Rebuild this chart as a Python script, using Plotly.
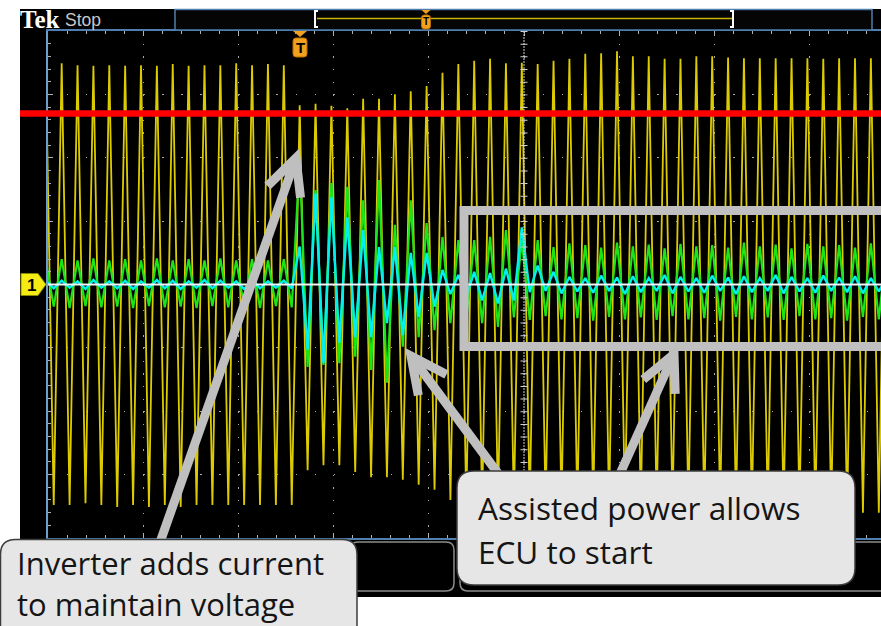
import math
import plotly.graph_objects as go

CYCLES_PER_DIV = 6          # timebase: 6 cycles per horizontal division
FIRST_PEAK_DIV = -0.023     # time of the first (off-screen) peak, in divisions

# channel 1 (yellow) – peak / trough of every cycle, in vertical divisions
yellow_peaks = [3.46,
                3.49, 3.46, 3.45, 3.46, 3.45, 3.46, 3.45, 3.48, 3.45, 3.46, 3.46, 3.49, 3.46, 3.48, 3.46,
                2.83, 2.85, 2.82, 2.78, 2.93, 2.93, 3.00, 3.05, 3.13,
                3.34, 3.48, 3.53, 3.56, 3.49, 3.50, 3.48, 3.53, 3.56, 3.64, 3.65, 3.68, 3.60, 3.60, 3.56,
                3.56, 3.60, 3.60, 3.58, 3.57, 3.57, 3.57, 3.57, 3.57, 3.56, 3.57, 3.57, 3.57, 3.57]
yellow_troughs = [-3.48, -3.48, -3.45, -3.48, -3.51, -3.48, -3.51, -3.48, -3.51, -3.48, -3.48, -3.48,
                  -3.48, -3.48, -3.48, -3.48,
                  -2.93, -2.85, -2.85, -2.96, -3.04, -3.04, -3.08, -3.16, -3.24, -3.40,
                  -3.48, -3.50, -3.50, -3.52, -3.50, -3.52, -3.50, -3.52, -3.52, -3.52, -3.54, -3.52,
                  -3.54, -3.54, -3.54, -3.56, -3.54, -3.56, -3.56, -3.56, -3.58, -3.56, -3.58, -3.58,
                  -3.60, -3.60, -3.60]

# green trace
green_peaks = [0.38,
               0.40, 0.38, 0.41, 0.38, 0.40, 0.38, 0.41, 0.38, 0.40, 0.38, 0.41, 0.38, 0.40, 0.38, 0.40,
               1.96, 1.49, 1.60, 1.54, 1.33, 1.65, 0.94, 1.33, 0.97, 0.75, 0.70, 0.70, 0.75, 0.86, 0.70,
               0.70, 0.59, 0.65,
               0.62, 0.58, 0.66, 0.60, 0.63, 0.57, 0.64, 0.60, 0.62, 0.58, 0.66, 0.60, 0.63, 0.57, 0.64,
               0.60, 0.62, 0.58, 0.65, 0.60]
green_troughs = [-0.35, -0.37, -0.34, -0.36, -0.35, -0.37, -0.34, -0.36, -0.35, -0.37, -0.34, -0.36,
                 -0.35, -0.37, -0.34, -0.36,
                 -1.30, -1.27, -1.24, -1.14, -1.35, -1.55, -0.98, -0.83, -0.72, -0.61, -0.56, -0.61, -0.67,
                 -0.52, -0.56, -0.50, -0.55, -0.53, -0.57, -0.51, -0.55, -0.52, -0.56, -0.50, -0.55,
                 -0.53, -0.57, -0.51, -0.55, -0.52, -0.56, -0.50, -0.55, -0.53, -0.57, -0.51, -0.55]

# cyan trace
cyan_peaks = [0.06,
              0.06, 0.05, 0.07, 0.05, 0.06, 0.05, 0.07, 0.06, 0.05, 0.07, 0.06, 0.05, 0.07, 0.05, 0.06,
              0.60, 1.44, 1.38, 1.06, 0.86, 0.59, 0.59, 0.50, 0.50, 0.23, 0.15, 0.20, 0.18, 0.25, 0.90,
              0.30, 0.20,
              0.12, 0.10, 0.14, 0.11, 0.13, 0.10, 0.15, 0.12, 0.10, 0.14, 0.11, 0.13, 0.10, 0.15, 0.12,
              0.10, 0.14, 0.11, 0.13, 0.10, 0.12]
cyan_troughs = [-0.06, -0.05, -0.07, -0.05, -0.06, -0.07, -0.05, -0.06, -0.07, -0.05, -0.06, -0.05,
                -0.07, -0.06, -0.05, -0.06,
                -1.03, -1.24, -0.92, -0.83, -0.83, -0.61, -0.80, -0.51, -0.35, -0.15, -0.20, -0.25,
                -0.30, -0.25,
                -0.12, -0.10, -0.14, -0.11, -0.13, -0.10, -0.15, -0.12, -0.10, -0.14, -0.11, -0.13,
                -0.10, -0.15, -0.12, -0.10, -0.14, -0.11, -0.13, -0.10, -0.12, -0.14, -0.11]

label_left = ["Inverter adds current", "to maintain voltage"]
label_right = ["Assisted power allows", "ECU to start"]


def build(peaks, troughs):
    period = 1.0 / CYCLES_PER_DIV
    t, v = [], []
    for k, p in enumerate(peaks):
        t.append(FIRST_PEAK_DIV + k * period)
        v.append(p)
        if k < len(troughs):
            t.append(FIRST_PEAK_DIV + k * period + period / 2)
            v.append(troughs[k])
    return t, v


# ---------------- geometry helpers (page pixels -> paper coords) ----------------
W, H = 881, 626
PL, PR, PT, PB = 48, 881, 31, 538
DIV_X = 95.2


def px(x):
    return (x - PL) / (PR - PL)


def py(y):
    return (PB - y) / (PB - PT)


def P(pt):
    return f"{px(pt[0]):.5f},{py(pt[1]):.5f}"


def rrect(x0, y0, x1, y1, r):
    return (f"M{P((x0 + r, y0))} L{P((x1 - r, y0))} Q{P((x1, y0))} {P((x1, y0 + r))} "
            f"L{P((x1, y1 - r))} Q{P((x1, y1))} {P((x1 - r, y1))} "
            f"L{P((x0 + r, y1))} Q{P((x0, y1))} {P((x0, y1 - r))} "
            f"L{P((x0, y0 + r))} Q{P((x0, y0))} {P((x0 + r, y0))} Z")


fig = go.Figure()
for (pk, tr, col, w) in [(yellow_peaks, yellow_troughs, "#dccb00", 1.8),
                         (green_peaks, green_troughs, "#19e619", 2.2),
                         (cyan_peaks, cyan_troughs, "#00f0f0", 2.4)]:
    t, v = build(pk, tr)
    fig.add_trace(go.Scatter(x=t, y=v, mode="lines", line=dict(color=col, width=w),
                             hoverinfo="skip"))

shapes = []
# scope screen background
shapes.append(dict(type="rect", xref="paper", yref="paper", x0=px(20), x1=1.0, y0=py(597), y1=py(9),
                   fillcolor="black", line=dict(width=0), layer="below"))
# bottom menu boxes
for (a, b) in [(350, 454), (460, 910)]:
    shapes.append(dict(type="path", xref="paper", yref="paper", path=rrect(a, 542, b, 591, 8),
                       line=dict(color="#8c8c8c", width=1.5), fillcolor="black", layer="above"))
# top bar
shapes.append(dict(type="rect", xref="paper", yref="paper", x0=px(175), x1=px(872), y0=py(30), y1=py(9.5),
                   line=dict(color="#4f7fae", width=1.5), fillcolor="#050505", layer="above"))
shapes.append(dict(type="line", xref="paper", yref="paper", x0=px(317), x1=px(732), y0=py(18.5), y1=py(18.5),
                   line=dict(color="#c8b400", width=1.6), layer="above"))
for (bx, d) in [(315, 1), (733, -1)]:
    shapes.append(dict(type="path", xref="paper", yref="paper",
                       path=f"M{P((bx + 3 * d, 11))} L{P((bx, 11))} L{P((bx, 27))} L{P((bx + 3 * d, 27))}",
                       line=dict(color="white", width=2), layer="above"))
# trigger markers
for (cx, top, bot, hw) in [(426, 10, 29, 4.5), (300, 31, 57, 7)]:
    tri_h = 4 if top < 20 else 6
    shapes.append(dict(type="path", xref="paper", yref="paper",
                       path=f"M{P((cx - hw, top))} L{P((cx + hw, top))} L{P((cx, top + tri_h))} Z",
                       fillcolor="#f2a01e", line=dict(width=0), layer="above"))
    shapes.append(dict(type="path", xref="paper", yref="paper",
                       path=rrect(cx - hw, top + tri_h + 1, cx + hw, bot, 3),
                       fillcolor="#f2a01e", line=dict(color="#b86e00", width=1), layer="above"))
# channel 1 marker
shapes.append(dict(type="path", xref="paper", yref="paper",
                   path=f"M{P((21, 273.5))} L{P((38, 273.5))} L{P((46, 284.5))} L{P((38, 295.5))} L{P((21, 295.5))} Z",
                   fillcolor="#f5ec14", line=dict(color="#8a8a00", width=1), layer="above"))
# centre graticule lines
cx = PL + 5 * DIV_X
shapes.append(dict(type="line", xref="paper", yref="paper", x0=px(cx), x1=px(cx), y0=py(PT), y1=py(PB),
                   line=dict(color="#d0d0d0", width=1, dash="2px,1px"), layer="above"))
shapes.append(dict(type="line", xref="paper", yref="paper", x0=px(cx), x1=px(cx), y0=py(PT), y1=py(PB),
                   line=dict(color="#d0d0d0", width=7, dash="1px,11.675px"), layer="above"))
shapes.append(dict(type="line", xref="paper", yref="paper", x0=px(PL), x1=1.0, y0=0.5, y1=0.5,
                   line=dict(color="#f4f4f4", width=2), layer="above"))
# red reference line
shapes.append(dict(type="line", xref="paper", yref="paper", x0=px(20), x1=1.0, y0=py(113.5), y1=py(113.5),
                   line=dict(color="#ff0000", width=6.5), layer="above"))
# highlight rectangle
shapes.append(dict(type="path", xref="paper", yref="paper",
                   path=f"M{P((920, 210.5))} L{P((464, 210.5))} L{P((464, 346.5))} L{P((920, 346.5))}",
                   line=dict(color="#c0c0c0", width=9), layer="above"))


# callout arrows
def arrow(tail, tip, L=40, ang=26):
    dx, dy = tail[0] - tip[0], tail[1] - tip[1]
    n = math.hypot(dx, dy)
    ux, uy = dx / n, dy / n
    pts = []
    for s in (1, -1):
        a = math.radians(ang * s)
        bx = ux * math.cos(a) - uy * math.sin(a)
        by = ux * math.sin(a) + uy * math.cos(a)
        pts.append((tip[0] + L * bx, tip[1] + L * by))
    st = dict(color="#bfbfbf", width=9)
    return [dict(type="path", xref="paper", yref="paper", path=f"M{P(tail)} L{P(tip)}", line=st, layer="above"),
            dict(type="path", xref="paper", yref="paper", path=f"M{P(pts[0])} L{P(tip)} L{P(pts[1])}",
                 line=st, layer="above")]


shapes += arrow((158, 548), (296, 158))
shapes += arrow((500, 476), (411, 356))
shapes += arrow((619, 476), (674, 354))

# callout boxes
shapes.append(dict(type="path", xref="paper", yref="paper", path=rrect(0.5, 539.5, 357, 660, 15),
                   fillcolor="#e6e6e6", line=dict(color="#3c3c3c", width=1.5), layer="above"))
shapes.append(dict(type="path", xref="paper", yref="paper", path=rrect(457, 471, 855, 585, 17),
                   fillcolor="#e6e6e6", line=dict(color="#3c3c3c", width=1.5), layer="above"))

ann = []
ann.append(dict(text="<b>Tek</b>", x=px(19), y=py(19), xanchor="left", yanchor="middle",
                font=dict(family="Liberation Serif", size=25, color="white")))
ann.append(dict(text="Stop", x=px(64), y=py(19.5), xanchor="left", yanchor="middle",
                font=dict(family="Liberation Sans", size=17.5, color="#c8c8c8")))
ann.append(dict(text="<b>T</b>", x=px(300), y=py(47.5), xanchor="center", yanchor="middle",
                font=dict(family="Liberation Sans", size=15, color="black")))
ann.append(dict(text="<b>T</b>", x=px(426), y=py(22), xanchor="center", yanchor="middle",
                font=dict(family="Liberation Sans", size=10, color="black")))
ann.append(dict(text="<b>1</b>", x=px(31), y=py(285), xanchor="center", yanchor="middle",
                font=dict(family="Liberation Sans", size=17, color="black")))
for txt, yy in zip(label_left, [563, 604]):
    ann.append(dict(text=txt, x=px(16), y=py(yy), xanchor="left", yanchor="middle",
                    font=dict(family="Open Sans", size=31, color="#151515")))
for txt, yy in zip(label_right, [507, 551]):
    ann.append(dict(text=txt, x=px(477), y=py(yy), xanchor="left", yanchor="middle",
                    font=dict(family="Open Sans", size=31.5, color="#151515")))
for a in ann:
    a.update(xref="paper", yref="paper", showarrow=False, borderpad=0)

fig.update_layout(width=W, height=H, margin=dict(l=PL, r=W - PR, t=PT, b=H - PB),
                  paper_bgcolor="white", plot_bgcolor="black", showlegend=False,
                  shapes=shapes, annotations=ann)
fig.update_xaxes(range=[0, (PR - PL) / DIV_X], dtick=1, tick0=0, showticklabels=False,
                 showgrid=True, gridcolor="#a8a8a8", gridwidth=1.3, griddash="1.3px,11.375px",
                 zeroline=False, showline=True, linecolor="#4f7fae", linewidth=1.5, mirror="ticks",
                 ticks="inside", ticklen=5, tickcolor="#b0b0b0", tickwidth=1,
                 minor=dict(dtick=0.2, ticks="inside", ticklen=3, tickcolor="#b0b0b0", showgrid=False))
fig.update_yaxes(range=[-4, 4], dtick=1, tick0=0, showticklabels=False,
                 showgrid=True, gridcolor="#a8a8a8", gridwidth=1.3, griddash="1.3px,17.74px",
                 zeroline=False, showline=True, linecolor="#6f9fc8", linewidth=1.5,
                 ticks="inside", ticklen=5, tickcolor="#b0b0b0", tickwidth=1,
                 minor=dict(dtick=0.2, ticks="inside", ticklen=3, tickcolor="#b0b0b0", showgrid=False))

fig.write_html("out.html", config={"displayModeBar": False},
               post_script="document.body.style.margin='0';document.body.style.overflow='hidden';")
